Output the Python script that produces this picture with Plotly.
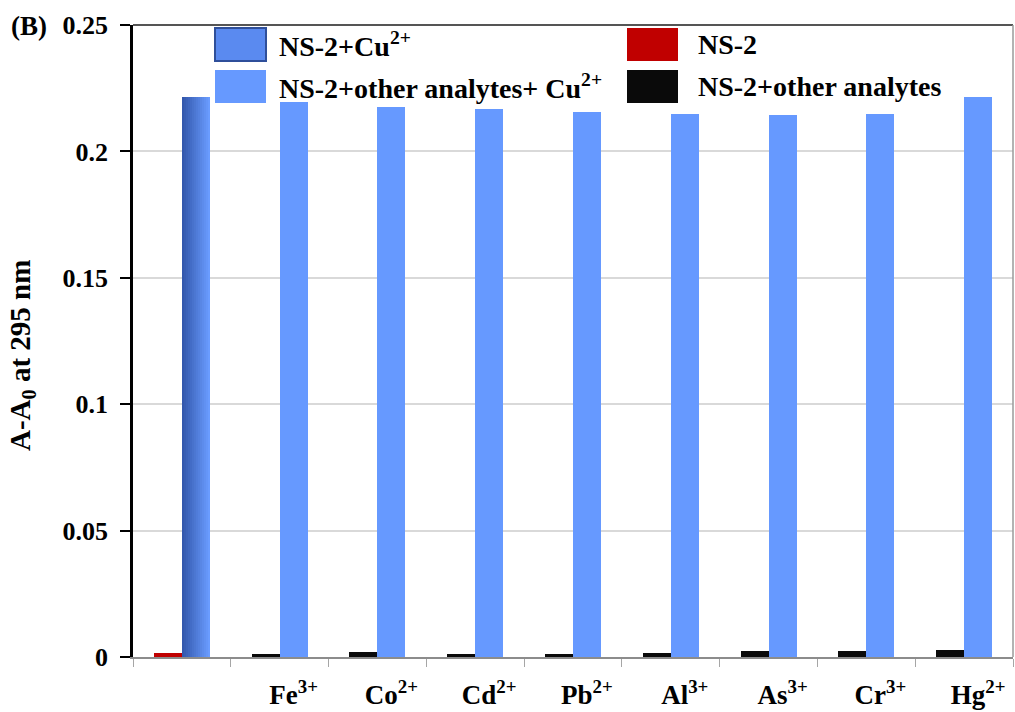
import plotly.graph_objects as go

# Data: absorbance change (A - A0) at 295 nm
categories = ["", "Fe<sup>3+</sup>", "Co<sup>2+</sup>", "Cd<sup>2+</sup>", "Pb<sup>2+</sup>",
              "Al<sup>3+</sup>", "As<sup>3+</sup>", "Cr<sup>3+</sup>", "Hg<sup>2+</sup>"]
ns2 = [0.0015]                          # NS-2 alone (first group)
ns2_cu = [0.2215]                       # NS-2 + Cu2+ (first group)
ns2_other = [0.0013, 0.0020, 0.0012, 0.0012, 0.0016, 0.0024, 0.0024, 0.0028]
ns2_other_cu = [0.2197, 0.2177, 0.2168, 0.2157, 0.2148, 0.2144, 0.2148, 0.2215]
y_ticks = [0, 0.05, 0.1, 0.15, 0.2, 0.25]
y_ticktext = ["0", "0.05", "0.1", "0.15", "0.2", "0.25"]

# Figure geometry (pixels)
W, H = 1015, 712
L, R, T, B = 133, 1013, 25, 657
FONT = "Liberation Serif"

def px_x(px):
    return (px - L) / (R - L)

def px_y(py):
    return (B - py) / (B - T)

bar_w = 0.286
xs = list(range(len(categories)))

fig = go.Figure()

# Left bars: NS-2 (red) and NS-2 + other analytes (black)
fig.add_trace(go.Bar(x=xs[:1], y=ns2, width=bar_w, offset=-bar_w,
                     marker=dict(color="#c00000", line=dict(width=0)),
                     name="NS-2", showlegend=False))
fig.add_trace(go.Bar(x=xs[1:], y=ns2_other, width=bar_w, offset=-bar_w,
                     marker=dict(color="#0a0a0a", line=dict(width=0)),
                     name="NS-2+other analytes", showlegend=False))

# Right bars: NS-2 + other analytes + Cu2+ (flat blue)
fig.add_trace(go.Bar(x=xs[1:], y=ns2_other_cu, width=bar_w, offset=0,
                     marker=dict(color="#6699ff", line=dict(width=0)),
                     name="NS-2+other analytes+ Cu2+", showlegend=False))

# NS-2 + Cu2+ bar with a horizontal shading from dark to light blue
n_slices = 14
c0 = (0x33, 0x58, 0xad)
c1 = (0x6a, 0x9c, 0xff)
for k in range(n_slices):
    t = k / (n_slices - 1)
    col = "rgb({},{},{})".format(*[int(a + (b - a) * t) for a, b in zip(c0, c1)])
    fig.add_trace(go.Bar(x=xs[:1], y=ns2_cu, width=bar_w / n_slices + 0.002,
                         offset=k * bar_w / n_slices,
                         marker=dict(color=col, line=dict(width=0)),
                         name="NS-2+Cu2+", showlegend=False))

shapes = [
    # top and right frame of the plot area
    dict(type="line", xref="paper", yref="paper", x0=0, x1=1, y0=1, y1=1,
         line=dict(color="#555555", width=2)),
    dict(type="line", xref="paper", yref="paper", x0=1, x1=1, y0=0, y1=1,
         line=dict(color="#9a9a9a", width=1.5)),
]

# Legend swatches and labels: (swatch left, swatch top, fill, edge, label, text left)
legend_items = [
    (215, 28, "#5a8af0", "#2f4f9a", "NS-2+Cu<sup>2+</sup>", 277),
    (215, 70, "#6699ff", "#6699ff", "NS-2+other analytes+ Cu<sup>2+</sup>", 277),
    (627, 28, "#c00000", "#c00000", "NS-2", 696),
    (627, 70, "#0a0a0a", "#0a0a0a", "NS-2+other analytes", 696),
]
annotations = []
for x0, y0, fill, edge, label, tx in legend_items:
    shapes.append(dict(type="rect", xref="paper", yref="paper",
                       x0=px_x(x0), x1=px_x(x0 + 51), y0=px_y(y0 + 33), y1=px_y(y0),
                       fillcolor=fill, line=dict(color=edge, width=2 if edge != fill else 0),
                       layer="above"))
    annotations.append(dict(xref="paper", yref="paper", x=px_x(tx), y=px_y(y0 + 17),
                            xanchor="left", yanchor="middle", showarrow=False,
                            text=label, font=dict(family=FONT, size=28, color="black", weight="bold")))

# Panel label and y-axis title
annotations.append(dict(xref="paper", yref="paper", x=px_x(29), y=px_y(26),
                        xanchor="center", yanchor="middle", showarrow=False, text="(B)",
                        font=dict(family=FONT, size=27, color="black", weight="bold")))
annotations.append(dict(xref="paper", yref="paper", x=px_x(22), y=px_y(356),
                        xanchor="center", yanchor="middle", showarrow=False, textangle=-90,
                        text="A-A<sub>0</sub> at 295 nm",
                        font=dict(family=FONT, size=29, color="black", weight="bold")))

fig.update_layout(
    width=W, height=H,
    margin=dict(l=L, r=W - R, t=T, b=H - B, autoexpand=False),
    paper_bgcolor="white", plot_bgcolor="white",
    barmode="overlay", bargap=0,
    showlegend=False,
    shapes=shapes, annotations=annotations,
    xaxis=dict(
        range=[-0.5, len(categories) - 0.5], tickmode="array",
        tickvals=[x + bar_w / 2 for x in xs], ticktext=categories,
        ticks="", showgrid=False, zeroline=False,
        showline=True, linecolor="#8c8c8c", linewidth=2,
        tickfont=dict(family=FONT, size=27, color="black", weight="bold"),
        ticklabelstandoff=13,
        minor=dict(tickmode="array", tickvals=[x - 0.5 for x in xs] + [len(xs) - 0.5],
                   ticks="outside", ticklen=8, tickwidth=1, tickcolor="#a6a6a6",
                   showgrid=False),
    ),
    yaxis=dict(
        range=[0, 0.25], tickmode="array", tickvals=y_ticks, ticktext=y_ticktext,
        ticks="outside", ticklen=10, tickwidth=2, tickcolor="black",
        showline=True, linecolor="black", linewidth=2.5,
        showgrid=True, gridcolor="#d9d9d9", gridwidth=1.5, zeroline=False,
        tickfont=dict(family=FONT, size=26, color="black", weight="bold"),
        ticklabelstandoff=7,
    ),
)

fig.write_html("out.html")
